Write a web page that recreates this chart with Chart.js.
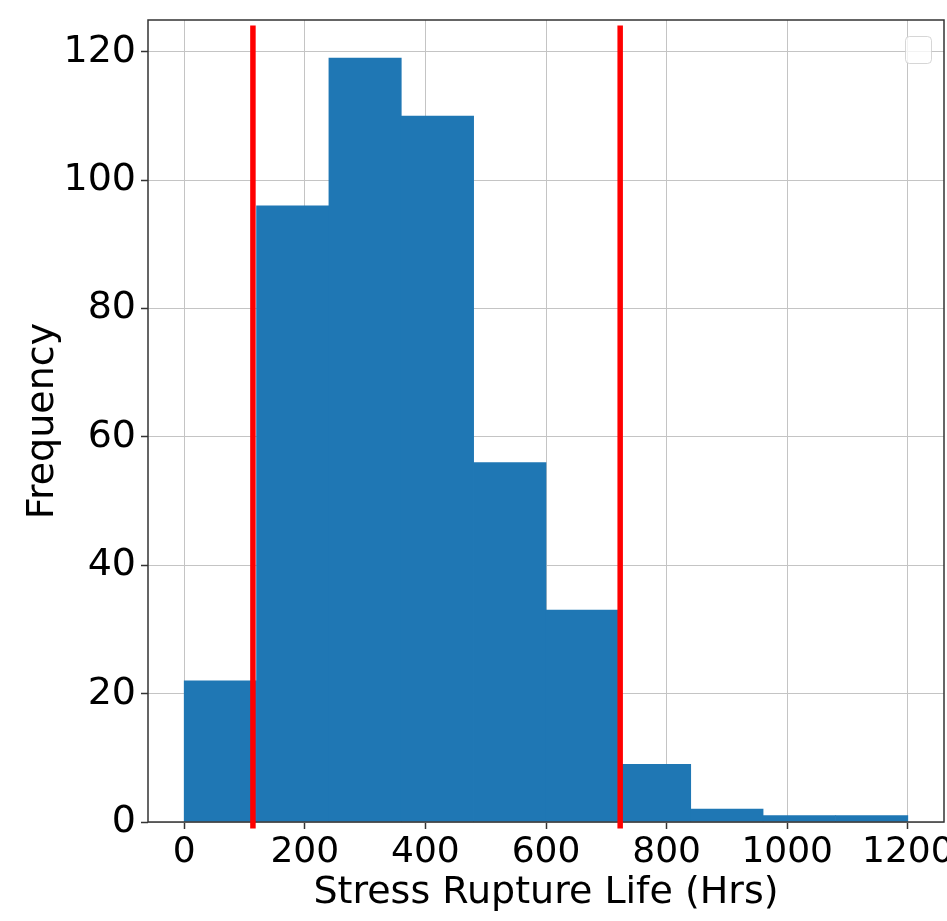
<!DOCTYPE html>
<html>
<head>
<meta charset="utf-8">
<script src="https://cdn.jsdelivr.net/npm/chart.js@4.4.0/dist/chart.umd.min.js"></script>
<style>
  html, body { margin: 0; padding: 0; background: #fff; }
  #wrap { width: 947px; height: 921px; }
</style>
</head>
<body>
<div id="wrap"><canvas id="hist" width="947" height="921"></canvas></div>
<script>
// histogram bins (Hrs) and counts
const binEdges = [0, 120, 240, 360, 480, 600, 720, 840, 960, 1080, 1200];
const counts = [22, 96, 119, 110, 56, 33, 9, 2, 1, 1];
// red limit lines (Hrs) and their vertical extent (frequency units)
const limitLines = [114, 723];
const limitSpan = [-1, 124.1];
const xTicks = [0, 200, 400, 600, 800, 1000, 1200];
const yTicks = [0, 20, 40, 60, 80, 100, 120];
const xRange = [-60, 1260];
const yRange = [0, 124.95];

const barData = counts.map((c, i) => ({ x: (binEdges[i] + binEdges[i + 1]) / 2, y: c }));

const tickFont = { family: 'DejaVu Sans', size: 36 };
const titleFont = { family: 'DejaVu Sans', size: 38 };

const overlay = {
    id: 'overlay',
    afterDraw(chart) {
        const { ctx, chartArea: a, scales: { x, y } } = chart;
        ctx.save();
        // axes frame
        ctx.strokeStyle = '#333';
        ctx.lineWidth = 1.5;
        ctx.strokeRect(a.left, a.top, a.right - a.left, a.bottom - a.top);
        // red limit lines
        ctx.strokeStyle = '#ff0000';
        ctx.lineWidth = 5.5;
        ctx.lineCap = 'butt';
        limitLines.forEach(v => {
            const px = x.getPixelForValue(v);
            ctx.beginPath();
            ctx.moveTo(px, y.getPixelForValue(limitSpan[0]));
            ctx.lineTo(px, y.getPixelForValue(limitSpan[1]));
            ctx.stroke();
        });
        // empty legend frame
        ctx.lineWidth = 1;
        ctx.fillStyle = 'rgba(255,255,255,0.8)';
        ctx.strokeStyle = 'rgba(204,204,204,0.8)';
        ctx.beginPath();
        ctx.roundRect(a.right - 38.5, a.top + 16.5, 26, 27, 4);
        ctx.fill();
        ctx.stroke();
        ctx.restore();
    }
};

new Chart(document.getElementById('hist'), {
    type: 'bar',
    data: {
        datasets: [{
            data: barData,
            backgroundColor: '#1f77b4',
            borderWidth: 0,
            barPercentage: 1,
            categoryPercentage: 1
        }]
    },
    options: {
        responsive: false,
        animation: false,
        devicePixelRatio: 1,
        layout: { padding: { top: 20, right: 3, left: 0, bottom: 0 } },
        plugins: { legend: { display: false }, tooltip: { enabled: false } },
        scales: {
            x: {
                type: 'linear',
                min: xRange[0],
                max: xRange[1],
                offset: false,
                z: 1,
                afterBuildTicks: s => { s.ticks = xTicks.map(v => ({ value: v })); },
                afterFit: s => { s.height = 99; s.paddingLeft = 0; s.paddingRight = 0; },
                grid: { offset: false, color: '#c4c4c4', lineWidth: 1, tickLength: 7, tickColor: '#333', tickWidth: 1.5 },
                border: { display: false },
                ticks: { font: tickFont, color: '#000', padding: 2, maxRotation: 0, autoSkip: false, callback: v => String(v) },
                title: { display: true, text: 'Stress Rupture Life (Hrs)', font: titleFont, color: '#000', padding: { top: 0, bottom: 5 } }
            },
            y: {
                min: yRange[0],
                max: yRange[1],
                z: 1,
                afterBuildTicks: s => { s.ticks = yTicks.map(v => ({ value: v })); },
                afterFit: s => { s.width = 148; s.paddingTop = 0; s.paddingBottom = 0; },
                grid: { color: '#c4c4c4', lineWidth: 1, tickLength: 7, tickColor: '#333', tickWidth: 1.5 },
                border: { display: false },
                ticks: { font: { family: 'DejaVu Sans', size: 38 }, color: '#000', padding: 5, callback: v => String(v) },
                title: { display: true, text: 'Frequency', font: titleFont, color: '#000', padding: { top: 20, bottom: 0 } }
            }
        }
    },
    plugins: [overlay]
});
</script>
</body>
</html>
